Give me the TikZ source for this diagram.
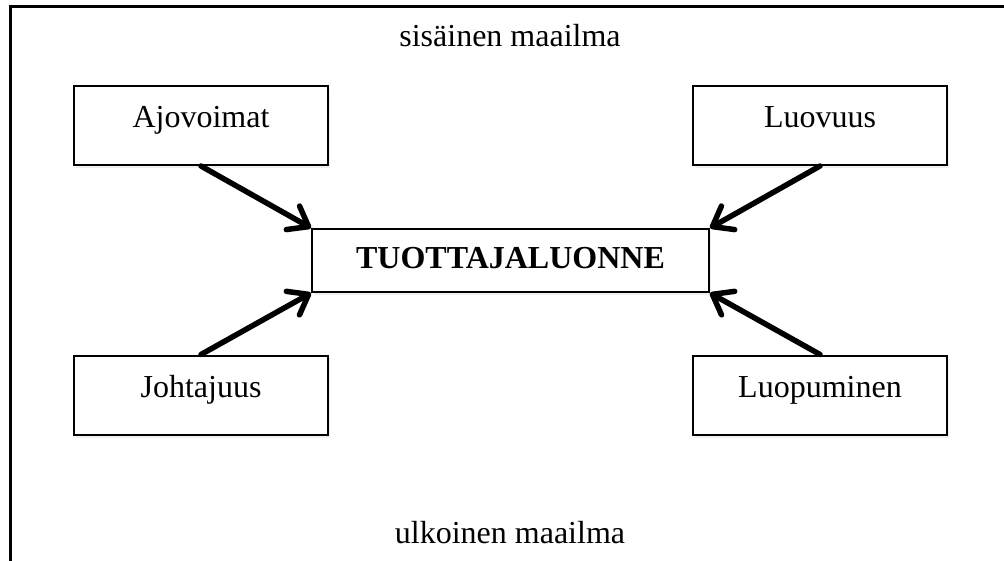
\documentclass[tikz,border=0pt]{standalone}
\usepackage{fontspec}
\setmainfont{Liberation Serif}
\usetikzlibrary{arrows.meta,shadows}
\begin{document}
\begin{tikzpicture}[x=1pt,y=-1pt,
  every node/.style={font=\fontsize{32}{38}\selectfont},
  sidebox/.style={draw,line width=2pt,fill=white,inner sep=0pt,
    minimum width=254pt,minimum height=79pt,text height=42pt,text depth=37pt,
    drop shadow={opacity=0.12,shadow xshift=2pt,shadow yshift=-3pt}},
  centerbox/.style={draw,line width=2pt,fill=white,inner sep=0pt,
    minimum width=397pt,minimum height=63pt,text height=40pt,text depth=23pt,
    font=\fontsize{32}{38}\selectfont\bfseries,
    drop shadow={opacity=0.12,shadow xshift=2pt,shadow yshift=-3pt}},
  conn/.style={line width=5.5pt,line cap=round,
    -{Straight Barb[length=18pt,width=27pt,line cap=round,line join=round]}},
  world/.style={inner sep=0pt,anchor=base}]
\useasboundingbox (0,0) rectangle (1004,561);
\fill[white] (0,0) rectangle (1004,561);
% frame (only top and left edges visible)
\coordinate (ftr) at (1004,6.5);
\coordinate (ftl) at (10.5,6.5);
\coordinate (fbl) at (10.5,561);
\draw[line width=2.5pt] (ftr) -- (ftl) -- (fbl);
% world labels
\node[world] (sis) at (510,47) {sisäinen maailma};
\node[world] (ulk) at (510,543) {ulkoinen maailma};
% boxes
\node[sidebox] (ajo) at (201,125.5) {Ajovoimat};
\node[sidebox] (luo) at (820,125.5) {Luovuus};
\node[sidebox] (joh) at (201,395) {Johtajuus};
\node[sidebox] (lup) at (820,395) {Luopuminen};
\node[centerbox] (tuo) at (510.5,260.5) {TUOTTAJALUONNE};
% connectors
\draw[conn] (ajo.south) -- (tuo.north west);
\draw[conn] (luo.south) -- (tuo.north east);
\draw[conn] (joh.north) -- (tuo.south west);
\draw[conn] (lup.north) -- (tuo.south east);
\end{tikzpicture}
\end{document}
